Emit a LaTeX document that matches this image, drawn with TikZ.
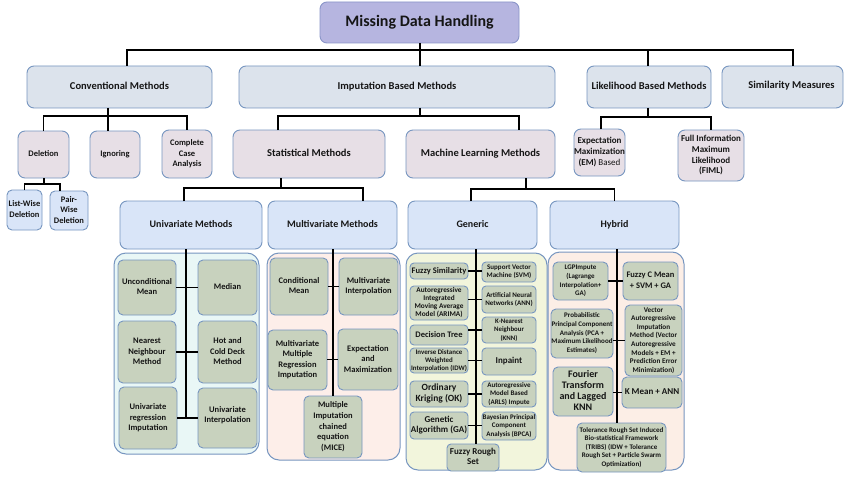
\documentclass[tikz,border=0pt]{standalone}
\usepackage{fontspec}
\setmainfont{Carlito}
\definecolor{cTitle}{HTML}{B6B5E0}
\definecolor{cTitleB}{HTML}{8A95C8}
\definecolor{cL1}{HTML}{DCE3EC}
\definecolor{cL2}{HTML}{E7DFE6}
\definecolor{cL3}{HTML}{D9E5F8}
\definecolor{cIn}{HTML}{C8D2BE}
\definecolor{cBord}{HTML}{7796C0}
\definecolor{cCU}{HTML}{E9F7F6}
\definecolor{cCM}{HTML}{FDEEE9}
\definecolor{cCG}{HTML}{F2F5DC}
\definecolor{cCH}{HTML}{FCEEE6}
\definecolor{cTxt}{HTML}{151515}
\newcommand\bx[7]{%
  \pgfmathsetmacro\bxw{#4-#2}\pgfmathsetmacro\bxh{#5-#3}%
  \pgfmathsetmacro\bxcx{(#2+#4)/2}\pgfmathsetmacro\bxcy{(#3+#5)/2}%
  \node[#6, minimum width=\bxw pt, minimum height=\bxh pt] (#1) at (\bxcx,\bxcy)
    {\makebox[0pt]{\begin{tabular}{@{}c@{}}#7\end{tabular}}};}
\begin{document}
\begin{tikzpicture}[x=1pt,y=-1pt,
  fs/.style 2 args={font=\fontsize{#1}{#2}\selectfont\bfseries},
  boxbase/.style={draw=cBord, line width=0.9pt, inner sep=0pt, outer sep=0pt, text=cTxt},
  lvl0/.style={boxbase, draw=cTitleB, fill=cTitle, rounded corners=7pt},
  lvl1/.style={boxbase, fill=cL1, rounded corners=7pt},
  lvl2/.style={boxbase, fill=cL2, rounded corners=7pt},
  lvl3/.style={boxbase, fill=cL3, rounded corners=7pt},
  inbox/.style={boxbase, fill=cIn, rounded corners=5pt},
  cont/.style={boxbase, line width=1pt, rounded corners=12pt},
  ln/.style={draw=black, line width=1.3pt}]
\useasboundingbox[fill=white] (0,0) rectangle (850,476);

% ---- title and level 1
\bx{mdh}{320}{2}{519}{43}{lvl0,fs={16}{19}}{Missing Data Handling}
\bx{conv}{27}{66}{212}{108}{lvl1,fs={10.5}{12}}{Conventional Methods}
\bx{imp}{239}{66}{555}{108}{lvl1,fs={10.5}{12}}{Imputation Based Methods}
\bx{lik}{587}{66}{711}{108}{lvl1,fs={10.5}{12}}{Likelihood Based Methods\rule[-4pt]{0pt}{0pt}}
\bx{sim}{722}{66}{843}{108}{lvl1,fs={10.5}{12}}{\hspace{18pt}Similarity Measures\rule[-6pt]{0pt}{0pt}}

% ---- level 2
\bx{del}{18}{131}{69}{178}{lvl2,fs={8.5}{10.8}}{Deletion}
\bx{ign}{90}{131}{140}{178}{lvl2,fs={8.5}{10.8}}{Ignoring}
\bx{cca}{162}{130}{212}{178}{lvl2,fs={8.5}{10.8}}{Complete\\Case\\Analysis}
\bx{stat}{233}{130}{385}{178}{lvl2,fs={10.5}{12}}{Statistical Methods}
\bx{ml}{406}{130}{555}{178}{lvl2,fs={10.5}{12}}{Machine Learning Methods}
\bx{em}{574}{129}{625}{176}{lvl2,fs={9}{10.8}}{Expectation\\Maximization\\(EM) {\mdseries Based}}
\bx{fiml}{678}{130}{744}{181}{lvl2,fs={9}{10.8}}{Full Information\\Maximum\\Likelihood\\(FIML)}
\bx{lw}{7}{190}{42}{230}{lvl3,rounded corners=5pt,fs={8.5}{10.5}}{List-Wise\\Deletion}
\bx{pw}{50}{191}{88}{230}{lvl3,rounded corners=5pt,fs={8.5}{10.5}}{Pair-\\Wise\\Deletion}

% ---- level 3
\bx{uni}{120}{201}{262}{249}{lvl3,fs={10}{12}}{Univariate Methods}
\bx{mv}{268}{201}{397}{249}{lvl3,fs={10}{12}}{Multivariate Methods}
\bx{gen}{408}{201}{537}{249}{lvl3,fs={10}{12}}{Generic}
\bx{hyb}{550}{201}{679}{249}{lvl3,fs={10}{12}}{Hybrid}

% ---- containers
\bx{cu}{114}{253}{259}{454}{cont,fill=cCU}{}
\bx{cm}{267}{253}{400}{460}{cont,fill=cCM}{}
\bx{cg}{406}{253}{547}{470}{cont,fill=cCG}{}
\bx{ch}{548}{252}{684}{470}{cont,fill=cCH}{}

% ---- univariate
\bx{um}{118}{260}{176}{315}{inbox,fs={8.5}{10}}{Unconditional\\Mean}
\bx{med}{198}{260}{257}{315}{inbox,fs={8.5}{10}}{Median}
\bx{nn}{118}{321}{176}{383}{inbox,fs={8.5}{10.5}}{Nearest\\Neighbour\\Method}
\bx{hcd}{198}{321}{257}{383}{inbox,fs={8.5}{10.5}}{Hot and\\Cold Deck\\Method}
\bx{ur}{119}{387}{177}{449}{inbox,fs={8.5}{10.5}}{Univariate\\regression\\Imputation}
\bx{ui}{198}{388}{257}{448}{inbox,fs={8.5}{10.5}}{Univariate\\Interpolation\rule[-8pt]{0pt}{0pt}}

% ---- multivariate
\bx{cmn}{270}{258}{328}{315}{inbox,fs={8.5}{10}}{Conditional\\Mean}
\bx{mvi}{339}{258}{398}{315}{inbox,fs={8.5}{10}}{Multivariate\\Interpolation}
\bx{mmr}{268}{330}{327}{390}{inbox,fs={8.5}{10.5}}{Multivariate\\Multiple\\Regression\\Imputation}
\bx{eam}{338}{329}{398}{390}{inbox,fs={8.5}{10.5}}{Expectation\\and\\Maximization}
\bx{mice}{304}{396}{362}{458}{inbox,fs={8.5}{10.8}}{Multiple\\Imputation\\chained\\equation\\(MICE)}

% ---- generic
\bx{fsim}{410}{263}{468}{279}{inbox,rounded corners=4pt,fs={8.5}{10}}{Fuzzy Similarity}
\bx{svm}{482}{262}{536}{282}{inbox,rounded corners=4pt,fs={7}{8.3}}{Support Vector\\Machine (SVM)}
\bx{arima}{410}{286}{468}{320}{inbox,rounded corners=4pt,fs={7.3}{8.2}}{Autoregressive\\Integrated\\Moving Average\\Model (ARIMA)}
\bx{ann}{482}{286}{536}{313}{inbox,rounded corners=4pt,fs={7}{8.3}}{Artificial Neural\\Networks (ANN)}
\bx{dt}{410}{325}{468}{345}{inbox,rounded corners=4pt,fs={8.5}{10}}{Decision Tree}
\bx{knn}{482}{317}{536}{343}{inbox,rounded corners=4pt,fs={6.8}{8.4}}{K-Nearest\\Neighbour\\(KNN)}
\bx{idw}{410}{348}{468}{373}{inbox,rounded corners=4pt,fs={6.9}{8.1}}{Inverse Distance\\Weighted\\Interpolation (IDW)}
\bx{inp}{482}{348}{536}{375}{inbox,rounded corners=4pt,fs={9}{10}}{Inpaint}
\bx{ok}{410}{381}{468}{407}{inbox,rounded corners=4pt,fs={9.5}{11}}{Ordinary\\Kriging (OK)}
\bx{arls}{482}{381}{536}{407}{inbox,rounded corners=4pt,fs={7}{8.4}}{Autoregressive\\Model Based\\(ARLS) Impute}
\bx{ga}{410}{412}{468}{439}{inbox,rounded corners=4pt,fs={9}{10.5}}{Genetic\\Algorithm (GA)}
\bx{bpca}{482}{412}{536}{440}{inbox,rounded corners=4pt,fs={7}{8.5}}{Bayesian Principal\\Component\\Analysis (BPCA)}
\bx{frs}{447}{444}{499}{471}{inbox,rounded corners=4pt,fs={9}{10.5}}{Fuzzy Rough\\Set}

% ---- hybrid
\bx{lgp}{553}{262}{608}{300}{inbox,fs={7}{8.7}}{LGPImpute\\(Lagrange\\Interpolation+\\GA)}
\bx{fcm}{623}{262}{678}{300}{inbox,fs={8.5}{11}}{Fuzzy C Mean\\+ SVM + GA}
\bx{ppca}{551}{309}{613}{358}{inbox,fs={7}{8.7}}{Probabilistic\\Principal Component\\Analysis (PCA +\\Maximum Likelihood\\Estimates)}
\bx{var}{625}{305}{682}{376}{inbox,fs={7.2}{8.6}}{Vector\\Autoregressive\\Imputation\\Method (Vector\\Autoregressive\\Models + EM +\\Prediction Error\\Minimization)}
\bx{four}{553}{367}{613}{416}{inbox,fs={10}{11}}{Fourier\\Transform\\and Lagged\\KNN}
\bx{kma}{622}{377}{682}{408}{inbox,fs={9}{10.5}}{K Mean + ANN}
\bx{trs}{577}{423}{666}{472}{inbox,fs={7}{8.5}}{Tolerance Rough Set Induced\\Bio-statistical Framework\\(TRIBS) (IDW + Tolerance\\Rough Set + Particle Swarm\\Optimization)}

% ---- connectors
\coordinate (b0) at (420,50);
\draw[ln] (mdh.south -| b0) -- (b0);
\draw[ln] ([xshift=7.5pt]conv.north) |- (b0) -| ([xshift=10.5pt]sim.north);
\draw[ln] (b0) -- (imp.north -| b0);
\draw[ln] (b0) -| ([xshift=-1pt]lik.north);

\coordinate (b1) at (108,116);
\draw[ln] (conv.south -| b1) -- (b1);
\draw[ln] (del.north) |- (b1) -| (cca.north);
\draw[ln] (b1) -- (ign.north -| b1);

\coordinate (b2) at (44,184);
\draw[ln] (del.south -| b2) -- (b2);
\draw[ln] (lw.north) |- (b2) -| ([xshift=-9pt]pw.north);

\coordinate (b3) at (420,116);
\draw[ln] (imp.south -| b3) -- (b3);
\draw[ln] ([xshift=-31pt]stat.north) |- (b3) -| ([xshift=38.5pt]ml.north);

\coordinate (b4) at (648,117);
\draw[ln] (lik.south -| b4) -- (b4);
\draw[ln] ([xshift=1.5pt]em.north) |- (b4) -| (fiml.north);

\coordinate (b5) at (281,188);
\draw[ln] (stat.south -| b5) -- (b5);
\draw[ln] ([xshift=-7pt]uni.north) |- (b5) -| ([xshift=30.5pt]mv.north);

\coordinate (b6) at (526,189);
\draw[ln] (ml.south -| b6) -- (b6);
\draw[ln] ([xshift=-1.5pt]gen.north) |- (b6) -| (hyb.north);

% univariate
\coordinate (b7) at (186,419);
\draw[ln] (uni.south -| b7) -- (b7);
\draw[ln] (um.east) -- (um.east -| med.west);
\draw[ln] (nn.east) -- (nn.east -| hcd.west);
\draw[ln] (ui.west -| ur.east) -- (ui.west);

% multivariate
\draw[ln] (mv.south -| mice.north) -- (mice.north);
\draw[ln] (cmn.east) -- (cmn.east -| mvi.west);
\draw[ln] (eam.west -| mmr.east) -- (eam.west);

% generic
\coordinate (b8) at (476,444);
\draw[ln] (gen.south -| b8) -- (b8);
\draw[ln] (fsim.east) -- (fsim.east -| svm.west);
\draw[ln] (ann.west -| arima.east) -- (ann.west);
\draw[ln] (knn.west -| dt.east) -- (knn.west);
\draw[ln] (idw.east) -- (idw.east -| inp.west);
\draw[ln] (ok.east) -- (ok.east -| arls.west);
\draw[ln] (ga.east) -- (ga.east -| bpca.west);

% hybrid
\coordinate (b9) at (617,423);
\draw[ln] (hyb.south -| b9) -- (b9);
\draw[ln] (lgp.east) -- (lgp.east -| fcm.west);
\draw[ln] (var.west -| ppca.east) -- (var.west);
\draw[ln] (kma.west -| four.east) -- (kma.west);
\end{tikzpicture}
\end{document}
